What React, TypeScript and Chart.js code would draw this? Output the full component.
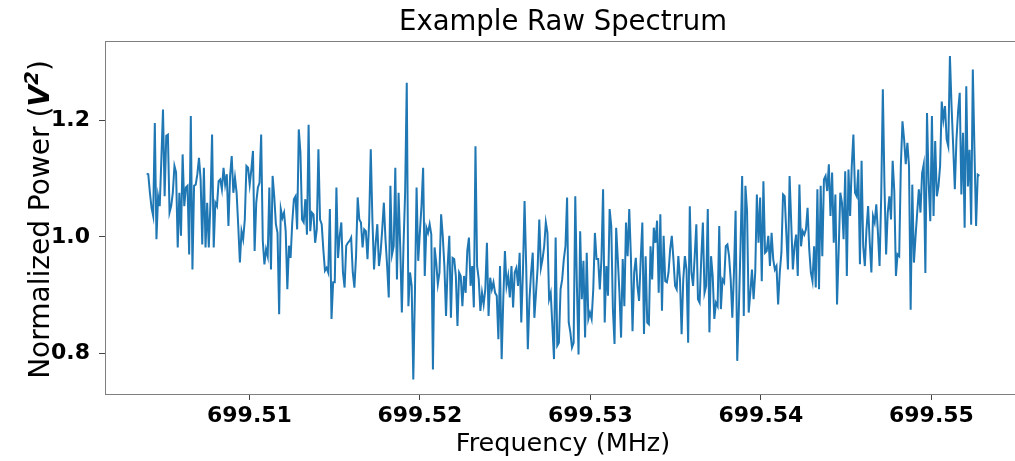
import React, { useEffect, useRef } from "react";
import { Chart, registerables } from "chart.js";

Chart.register(...registerables);

// Normalized power per channel (left to right)
const POWER: number[] = [
  1.109, 1.108, 1.076, 1.050, 1.036, 1.196, 0.996, 1.070, 1.053, 1.133, 1.219, 1.070, 1.174, 1.176, 1.042, 1.053, 1.076, 1.122, 1.111, 0.982, 1.076, 1.002, 1.142, 1.053, 1.085, 1.088, 0.970, 1.208, 0.944, 1.088, 1.090, 1.108, 1.136, 1.099, 0.987, 1.119, 0.982, 1.059, 0.982, 1.059, 1.176, 0.982, 1.059,
  1.053, 1.096, 1.099, 1.082, 1.119, 1.090, 1.108, 1.019, 1.105, 1.139, 1.076, 1.102, 1.076, 1.019, 0.956, 1.010, 0.996, 1.030, 1.122, 1.119, 1.090, 1.116, 1.148, 0.976, 1.059, 1.085, 1.093, 1.176, 0.993, 0.953, 0.979, 0.967, 1.085, 0.944, 1.105, 1.070, 1.022, 1.007, 0.867, 1.048, 1.033, 1.042, 1.010, 0.910, 0.985, 0.964,
  1.025, 1.065, 1.070, 1.013, 1.185, 1.145, 1.030, 1.025, 1.065, 1.004, 1.193, 1.010, 1.042, 1.039, 0.990, 1.013, 1.151, 1.030, 1.022, 0.979, 0.942, 0.947, 0.939, 1.048, 0.859, 0.922, 0.922, 1.085, 0.964, 1.002, 1.025, 0.939, 0.913, 0.985, 0.990, 0.993, 0.999, 0.939, 0.913, 0.967, 1.068, 1.030, 1.025, 0.982, 1.013, 1.010, 0.962,
  1.025, 1.151, 1.030, 0.944, 0.990, 1.022, 0.950, 0.973, 1.013, 1.059, 0.996, 0.950, 0.896, 1.088, 0.970, 0.984, 1.119, 0.927, 1.076, 0.984, 0.870, 0.984, 1.076, 1.265, 0.881, 0.939, 0.916, 0.755, 0.904, 1.085, 0.959, 1.007, 1.053, 1.119, 0.933, 1.016, 1.007, 1.022, 1.004, 0.772, 0.982, 0.956, 0.919, 0.939, 1.039, 1.002,
  0.950, 0.864, 0.950, 1.002, 0.861, 0.964, 0.962, 0.933, 0.847, 0.939, 0.933, 0.881, 0.933, 0.904, 0.976, 0.999, 0.916, 0.950, 0.879, 1.156, 0.950, 0.927, 0.873, 0.904, 0.884, 0.910, 0.990, 0.864, 0.930, 0.910, 0.922, 0.904, 0.899, 0.824, 0.950, 0.790, 0.893, 0.976, 0.916, 0.933, 0.896, 0.950, 0.879, 0.939, 0.947, 0.916, 0.973,
  0.853, 0.939, 1.062, 0.950, 0.807, 0.893, 0.939, 0.973, 0.861, 0.904, 0.947, 1.030, 0.947, 0.962, 0.984, 1.025, 1.007, 0.893, 0.904, 0.847, 0.790, 0.999, 0.813, 0.818, 0.910, 0.927, 0.962, 0.984, 1.068, 0.853, 0.836, 0.810, 0.818, 1.070, 0.916, 0.798, 1.010, 0.893, 0.959, 0.827, 0.973, 0.859, 0.870, 0.859, 0.910, 1.007,
  0.962, 0.962, 0.910, 0.962, 1.082, 0.853, 0.950, 0.899, 1.048, 1.019, 0.876, 0.816, 1.016, 0.962, 0.904, 0.827, 0.962, 0.881, 1.025, 0.967, 1.048, 0.967, 0.838, 0.939, 0.964, 0.916, 0.890, 0.962, 1.025, 0.833, 0.967, 0.853, 0.850, 0.984, 0.927, 1.016, 0.990, 1.028, 0.904, 1.039, 0.873, 1.002, 0.924, 0.922, 0.939, 0.979,
  1.002, 0.962, 0.916, 0.910, 0.967, 0.927, 0.833, 0.927, 0.967, 0.944, 0.818, 1.053, 0.939, 0.916, 0.967, 1.022, 0.893, 0.887, 0.962, 1.025, 0.904, 0.916, 1.048, 0.836, 0.967, 0.933, 0.859, 0.887, 0.881, 1.019, 0.876, 0.927, 0.922, 0.984, 0.987, 0.967, 0.927, 0.861, 0.939, 1.045, 0.787, 0.876, 0.984, 1.105, 0.864, 1.088,
  1.045, 0.870, 0.904, 0.944, 0.893, 0.939, 1.073, 0.990, 1.068, 0.924, 1.096, 0.973, 0.976, 1.002, 0.950, 1.007, 0.962, 0.944, 0.950, 0.884, 0.939, 0.973, 1.073, 1.070, 1.007, 0.944, 1.105, 1.025, 0.944, 0.984, 1.004, 0.933, 1.090, 0.984, 1.010, 1.004, 1.013, 1.050, 0.979, 0.939, 0.924, 0.984, 0.913, 1.082, 0.910, 1.088,
  0.967, 1.099, 1.105, 1.079, 1.125, 1.036, 1.111, 0.990, 1.073, 0.884, 0.976, 1.076, 1.059, 0.996, 1.113, 0.933, 1.116, 1.036, 1.122, 1.176, 1.076, 1.070, 1.116, 0.953, 1.131, 0.984, 0.950, 1.013, 1.053, 0.990, 0.939, 1.036, 1.025, 1.056, 1.007, 0.950, 1.070, 1.254, 1.088, 0.970, 1.042, 1.070, 1.030, 1.131, 1.079, 0.933,
  0.970, 0.967, 1.122, 1.199, 1.168, 1.125, 1.162, 1.122, 0.875, 1.090, 0.956, 1.001, 1.042, 1.082, 1.042, 1.110, 1.125, 0.938, 1.213, 1.093, 1.027, 1.208, 1.036, 1.165, 1.070, 1.087, 1.122, 1.233, 1.202, 1.225, 1.168, 1.156, 1.311, 1.225, 1.156, 1.082, 1.168, 1.216, 1.248, 1.073, 1.179, 1.016, 1.259, 1.087, 1.150, 1.021, 1.288, 1.150, 1.019, 1.107, 1.105,
];

// Frequency of first and last channel (MHz)
const FREQ_START = 699.50397;
const FREQ_END = 699.55281;

const X_TICKS = [699.51, 699.52, 699.53, 699.54, 699.55];
const Y_TICKS = [0.8, 1.0, 1.2];
const Y_MIN = 0.73;
const Y_MAX = 1.337;

const TITLE = "Example Raw Spectrum";
const X_LABEL = "Frequency (MHz)";
const Y_LABEL_PARTS = ["Normalized Power (", "V", "2", ")"];

const FONT = '"DejaVu Sans", "Liberation Sans", sans-serif';

export default function App() {
  const ref = useRef<HTMLCanvasElement>(null);

  useEffect(() => {
    const canvas = ref.current;
    if (!canvas) return;
    const n = POWER.length;
    const step = (FREQ_END - FREQ_START) / (n - 1);
    const points = POWER.map((v, i) => ({ x: FREQ_START + i * step, y: v }));
    const margin = (FREQ_END - FREQ_START) * 0.05;

    const framePlugin = {
      id: "frame",
      afterDatasetsDraw(chart: any) {
        const { ctx, chartArea: a } = chart;
        ctx.save();
        ctx.strokeStyle = "#7f7f7f";
        ctx.lineWidth = 1;
        ctx.strokeRect(a.left + 0.5, a.top + 0.5, a.right - a.left, a.bottom - a.top);
        ctx.restore();
      },
    };

    const yTitlePlugin = {
      id: "ytitle",
      afterDraw(chart: any) {
        const { ctx, chartArea: a } = chart;
        const cy = (a.top + a.bottom) / 2 + 2;
        const parts = [
          { t: Y_LABEL_PARTS[0], f: `28px ${FONT}`, dy: 0 },
          { t: Y_LABEL_PARTS[1], f: `italic bold 28px ${FONT}`, dy: 0 },
          { t: Y_LABEL_PARTS[2], f: `italic bold 20px ${FONT}`, dy: -11 },
          { t: Y_LABEL_PARTS[3], f: `28px ${FONT}`, dy: 0 },
        ];
        ctx.save();
        ctx.translate(49, cy);
        ctx.rotate(-Math.PI / 2);
        ctx.fillStyle = "#000";
        ctx.textBaseline = "alphabetic";
        ctx.textAlign = "left";
        const widths = parts.map((p) => {
          ctx.font = p.f;
          return ctx.measureText(p.t).width;
        });
        const total = widths.reduce((s, w) => s + w, 0);
        let x = -total / 2;
        parts.forEach((p, i) => {
          ctx.font = p.f;
          ctx.fillText(p.t, x, p.dy);
          x += widths[i];
        });
        ctx.restore();
      },
    };

    const chart = new Chart(canvas, {
      type: "line",
      data: {
        datasets: [
          {
            data: points,
            borderColor: "#1f77b4",
            borderWidth: 2,
            pointRadius: 0,
            tension: 0,
            fill: false,
          },
        ],
      },
      options: {
        animation: false,
        responsive: false,
        maintainAspectRatio: false,
        devicePixelRatio: 1,
        events: [],
        layout: { padding: 0 },
        plugins: {
          legend: { display: false },
          tooltip: { enabled: false },
          title: {
            display: true,
            text: TITLE,
            color: "#000",
            font: { family: FONT, size: 27.5, weight: "normal" },
            padding: { top: 6, bottom: 2 },
          },
        },
        scales: {
          x: {
            type: "linear",
            min: FREQ_START - margin,
            max: FREQ_END + margin,
            afterBuildTicks: (scale: any) => {
              scale.ticks = X_TICKS.map((v) => ({ value: v }));
            },
            afterFit: (scale: any) => {
              scale.height = 67;
            },
            border: { display: false },
            grid: {
              display: true,
              drawOnChartArea: false,
              drawTicks: true,
              tickLength: 6,
              tickColor: "#444",
              tickWidth: 1,
            },
            ticks: {
              autoSkip: false,
              maxRotation: 0,
              padding: 3,
              color: "#000",
              font: { family: FONT, size: 22, weight: "bold" },
              callback: (v: any) => Number(v).toFixed(2),
            },
            title: {
              display: true,
              text: X_LABEL,
              color: "#000",
              font: { family: FONT, size: 25.5, weight: "normal" },
              padding: { top: 0, bottom: 1 },
            },
          },
          y: {
            type: "linear",
            position: "left",
            min: Y_MIN,
            max: Y_MAX,
            afterBuildTicks: (scale: any) => {
              scale.ticks = Y_TICKS.map((v) => ({ value: v }));
            },
            afterFit: (scale: any) => {
              scale.width = 105;
            },
            border: { display: false },
            grid: {
              display: true,
              drawOnChartArea: false,
              drawTicks: true,
              tickLength: 6,
              tickColor: "#444",
              tickWidth: 1,
            },
            ticks: {
              padding: 9,
              color: "#000",
              font: { family: FONT, size: 22, weight: "bold" },
              callback: (v: any) => Number(v).toFixed(1),
            },
          },
          // empty spacer on the right so the plot area runs past the visible edge
          yRight: {
            type: "linear",
            position: "right",
            display: true,
            min: Y_MIN,
            max: Y_MAX,
            afterFit: (scale: any) => {
              scale.width = 105;
            },
            border: { display: false },
            grid: { display: false, drawTicks: false },
            ticks: { display: false },
          },
        },
      },
      plugins: [framePlugin, yTitlePlugin],
    } as any);

    return () => chart.destroy();
  }, []);

  return (
    <div
      style={{
        position: "fixed",
        left: 0,
        top: 0,
        width: 1015,
        height: 461,
        overflow: "hidden",
        background: "#fff",
      }}
    >
      <canvas ref={ref} width={1126} height={461} style={{ display: "block", width: 1126, height: 461 }} />
    </div>
  );
}
